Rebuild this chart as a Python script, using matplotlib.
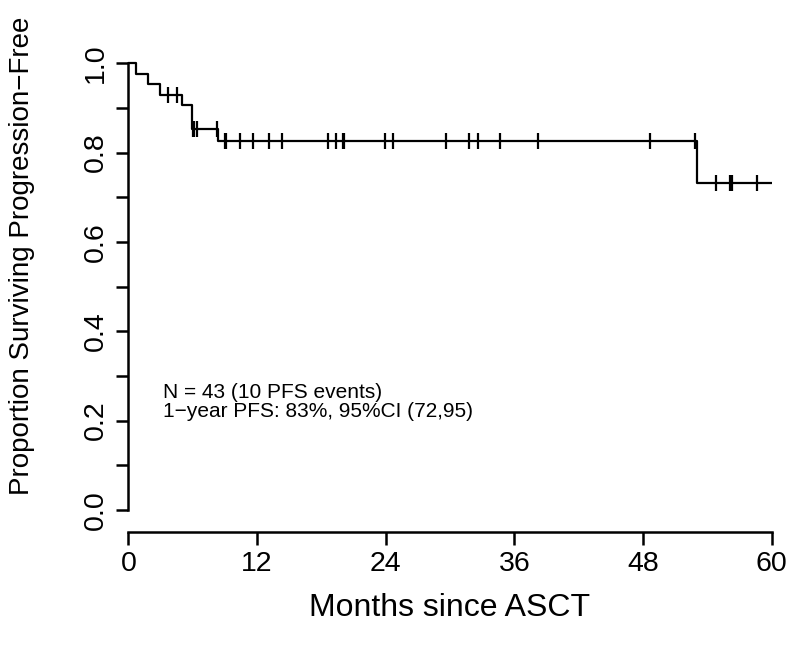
import matplotlib
matplotlib.use("Agg")
import matplotlib.pyplot as plt
import numpy as np

plt.rcParams['font.family'] = ['Liberation Sans', 'DejaVu Sans']

# Kaplan-Meier step curve
step_times = [0.0, 0.72, 1.87, 2.96, 4.98, 5.9, 8.4, 53.0]
step_surv = [1.0, 0.977, 0.953, 0.930, 0.906, 0.852, 0.826, 0.732]
end_time = 60.0

# censor marks (months)
censor_times = [3.73, 4.51,
                6.05, 6.15, 6.38, 8.3,
                9.0, 9.1, 10.42, 11.66, 13.15, 14.31, 18.66, 19.37, 20.0, 20.12,
                23.93, 24.66, 29.6, 31.8, 32.6, 34.7, 38.25, 48.67, 52.86,
                54.8, 56.15, 56.3, 58.6]

x_ticks = [0, 12, 24, 36, 48, 60]
y_ticks_major = [0.0, 0.2, 0.4, 0.6, 0.8, 1.0]
y_ticks_minor = [0.1, 0.3, 0.5, 0.7, 0.9]

xlabel = "Months since ASCT"
ylabel = "Proportion Surviving Progression\u2212Free"
annot = ["N = 43 (10 PFS events)", "1\u2212year PFS: 83%, 95%CI (72,95)"]


def surv_at(t):
    s = step_surv[0]
    for tt, ss in zip(step_times, step_surv):
        if t >= tt:
            s = ss
    return s


fig = plt.figure(figsize=(8, 6.5), dpi=100)
ax = fig.add_axes([0.1604, 0.182, 0.8042, 0.754])

xs = step_times + [end_time]
ys = step_surv + [step_surv[-1]]
ax.step(xs, ys, where='post', color='black', lw=1.6)

cy = [surv_at(t) for t in censor_times]
ax.plot(censor_times, cy, linestyle='none', marker='|', markersize=12,
        markeredgewidth=1.6, color='black')

ax.set_xlim(0, 60)
ax.set_ylim(-0.0485, 1.0485)

for s in ['top', 'right']:
    ax.spines[s].set_visible(False)
ax.spines['left'].set_bounds(0, 1)
ax.spines['bottom'].set_bounds(0, 60)
ax.spines['left'].set_linewidth(1.8)
ax.spines['bottom'].set_linewidth(1.8)

ax.set_xticks(x_ticks)
ax.set_xticklabels([str(v) for v in x_ticks])
ax.set_yticks(y_ticks_major)
ax.set_yticklabels([f"{v:.1f}" for v in y_ticks_major], rotation=90, va='center')
ax.set_yticks(y_ticks_minor, minor=True)
ax.tick_params(axis='both', which='both', direction='out', length=9, width=1.8,
               labelsize=20.5, pad=5)
ax.tick_params(axis='y', which='minor', labelleft=False)

ax.set_xlabel(xlabel, fontsize=23)
ax.set_ylabel(ylabel, fontsize=20)
ax.xaxis.set_label_coords(0.5, -0.125)
ax.yaxis.set_label_coords(-0.145, 0.563)

ax.text(3.2, 0.264, annot[0], fontsize=15, va='center', ha='left')
ax.text(3.2, 0.221, annot[1], fontsize=15, va='center', ha='left')

fig.savefig("out.png", dpi=100)
